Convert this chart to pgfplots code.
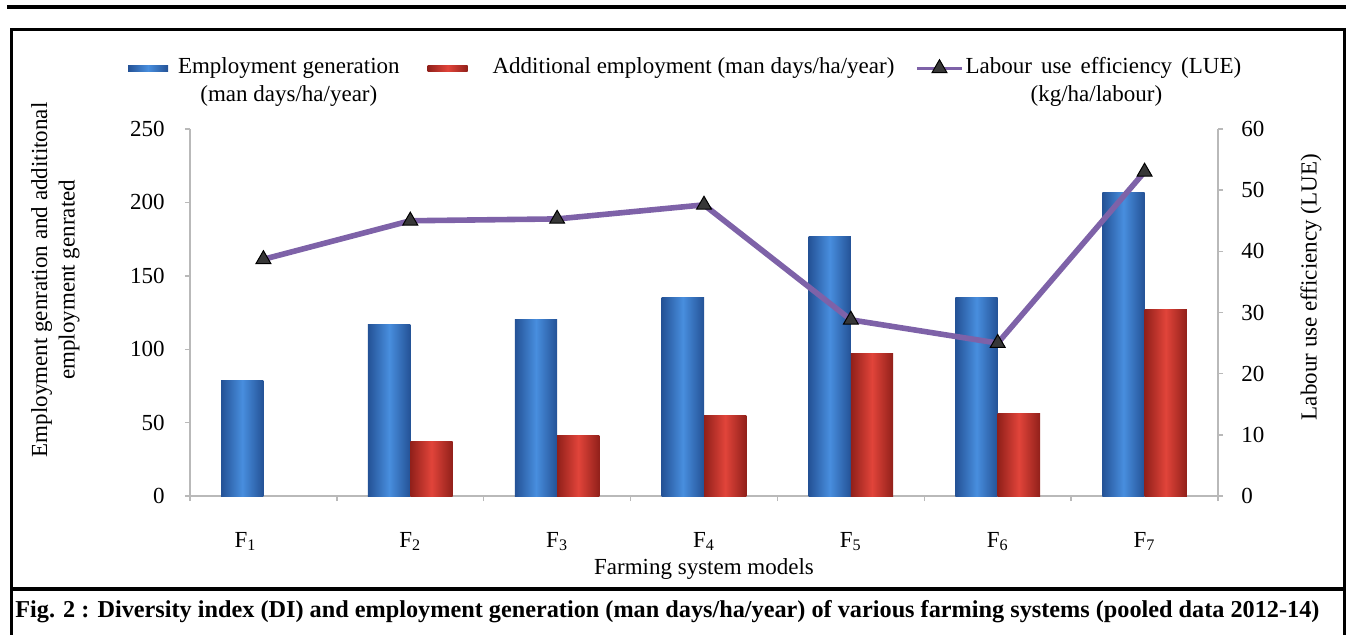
\documentclass[border=0pt]{standalone}
\usepackage{pgfplots}
\pgfplotsset{compat=1.18}
\usepackage{fontspec}
\setmainfont{Liberation Serif}
\definecolor{bluemid}{RGB}{72,142,222}
\definecolor{bluedark}{RGB}{36,82,150}
\definecolor{redmid}{RGB}{225,68,58}
\definecolor{reddark}{RGB}{145,32,26}
\definecolor{lue}{RGB}{126,98,168}
\definecolor{axgray}{RGB}{185,185,185}
\definecolor{mk}{RGB}{55,55,55}
\pgfplotsset{
  bluebar/.style={draw=none, left color=bluedark, right color=bluedark, middle color=bluemid},
  redbar/.style={draw=none, left color=reddark, right color=reddark, middle color=redmid},
  bb/.style={ybar, bar width=0.288, bar shift=-0.144, bluebar},
  rb/.style={ybar, bar width=0.288, bar shift=0.144, redbar},
  barleg/.style={legend image code/.code={\path[##1] (0pt,1.2pt) rectangle (20pt,4.4pt);}},
  lineleg/.style={legend image code/.code={\draw[mark repeat=2, mark phase=2, ##1, line width=1.6pt] plot coordinates {(0pt,2.8pt) (11.25pt,2.8pt) (22.5pt,2.8pt)};}},
  every tick label/.append style={font=\fontsize{11.5}{13.8}\selectfont},
  every axis label/.append style={font=\fontsize{11.5}{13.8}\selectfont},
}
\begin{document}
\begin{tikzpicture}[x=0.5pt,y=-0.5pt]
\path[use as bounding box] (0,0) rectangle (1346,634);
\draw[line width=2pt] (7,7) -- (1346,7);
\draw[line width=1.5pt] (11,660) -- (11,29) -- (1344,29) -- (1344,660);
\draw[line width=2pt] (11,589) -- (1344,589);
\node[anchor=base west, inner sep=0pt] at (15,617) {\resizebox{652pt}{!}{\bfseries Fig. 2 : Diversity index (DI) and employment generation (man days/ha/year) of various farming systems (pooled data 2012-14)}};

\begin{axis}[
  at={(95pt,-248pt)}, anchor=south west,
  scale only axis, width=514pt, height=183.5pt,
  xmin=-0.5, xmax=6.5, ymin=0, ymax=250,
  axis y line*=left, axis x line*=bottom,
  axis line style={axgray, line width=0.7pt},
  tick style={axgray, line width=0.7pt},
  tick align=outside, major tick length=2.5pt,
  /pgf/number format/assume math mode=true,
  xtick={-0.5,0.5,...,6.5}, xticklabels={},
  extra x ticks={0,1,2,3,4,5,6},
  extra x tick labels={\hspace*{-18pt}F\textsubscript{1}, F\textsubscript{2}, F\textsubscript{3}, F\textsubscript{4}, F\textsubscript{5}, F\textsubscript{6}, F\textsubscript{7}},
  extra x tick style={major tick length=0pt, xticklabel style={anchor=base, yshift=-25.5pt}},
  ytick={0,50,...,250},
  yticklabel style={anchor=east, inner sep=0pt, xshift=-10pt},
  xlabel={Farming system models},
  xlabel style={at={(axis description cs:0.5,-0.215)}, anchor=base},
  ylabel={Employment genration and addititonal\\employment genrated},
  ylabel style={at={(axis description cs:-0.131,0.589)}, anchor=center, align=center},
]
% Employment generation (man days/ha/year)
\addplot[bb] coordinates {(0,79)};
\addplot[bb] coordinates {(1,116.5)};
\addplot[bb] coordinates {(2,120.4)};
\addplot[bb] coordinates {(3,135)};
\addplot[bb] coordinates {(4,176.6)};
\addplot[bb] coordinates {(5,135.3)};
\addplot[bb] coordinates {(6,206.6)};
% Additional employment (man days/ha/year)
\addplot[rb] coordinates {(1,37)};
\addplot[rb] coordinates {(2,41.5)};
\addplot[rb] coordinates {(3,55)};
\addplot[rb] coordinates {(4,97.3)};
\addplot[rb] coordinates {(5,56.5)};
\addplot[rb] coordinates {(6,127.2)};
\end{axis}

\begin{axis}[
  at={(95pt,-248pt)}, anchor=south west,
  scale only axis, width=514pt, height=183.5pt,
  xmin=-0.5, xmax=6.5, ymin=0, ymax=60,
  axis y line*=right, axis x line=none,
  axis line style={axgray, line width=0.7pt},
  tick style={axgray, line width=0.7pt},
  tick align=outside, major tick length=2.5pt,
  /pgf/number format/assume math mode=true,
  ytick={0,10,...,60},
  yticklabel style={anchor=west, inner sep=0pt, xshift=9pt},
  ylabel={Labour use efficiency (LUE)},
  ylabel style={at={(axis description cs:1.0905,0.569)}, anchor=center},
  legend columns=3,
  legend style={at={(axis description cs:-0.0603,1.2027)}, anchor=north west,
    draw=none, fill=none, inner sep=0pt, outer sep=0pt,
    font=\fontsize{11.5}{13.8}\selectfont,
    cells={anchor=base west},
    nodes={inner sep=0pt},
    /tikz/column 1/.style={column sep=5pt},
    /tikz/column 2/.style={column sep=14pt},
    /tikz/column 3/.style={column sep=12.5pt},
    /tikz/column 4/.style={column sep=10.5pt},
    /tikz/column 5/.style={column sep=1pt},
  },
]
\addlegendimage{bluebar, barleg}
\addlegendentry{\begin{tabular}[t]{@{}c@{}}Employment generation\\(man days/ha/year)\end{tabular}}
\addlegendimage{redbar, barleg}
\addlegendentry{Additional employment (man days/ha/year)}
\addplot[color=lue, line width=2.8pt, mark=triangle*, mark size=4.3pt,
  mark options={fill=mk, draw=black, line width=0.5pt}, lineleg]
  coordinates {(0,38.7) (1,45) (2,45.3) (3,47.6) (4,28.8) (5,25) (6,53)};
\addlegendentry{\begin{tabular}[t]{@{}c@{}}Labour\hspace{4.5pt}use\hspace{4.5pt}efficiency\hspace{4.5pt}(LUE)\\\hspace*{-7pt}(kg/ha/labour)\end{tabular}}
\end{axis}
\end{tikzpicture}
\end{document}
